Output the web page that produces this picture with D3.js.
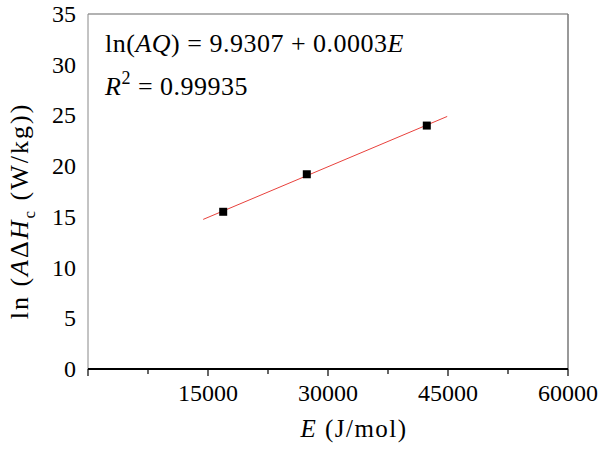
<!DOCTYPE html>
<html>
<head>
<meta charset="utf-8">
<script src="https://cdn.jsdelivr.net/npm/d3@7"></script>
<style>
  body { margin: 0; background: #fff; }
</style>
</head>
<body>
<svg id="svg"></svg>
<script>
// data
const energy = [16900, 27350, 42350];      // E (J/mol)
const lnValue = [15.5, 19.2, 24.0];        // ln(A dHc)
const trendE = [14400, 44900];             // trendline ends
const trendLn = [14.75, 24.9];
const xTicks = [0, 15000, 30000, 45000, 60000];
const xMinor = [7500, 22500, 37500, 52500];
const yTicks = [0, 5, 10, 15, 20, 25, 30, 35];

const w = 600, h = 449;
const m = {left: 88, right: 32, top: 14, bottom: 80};
const fs = 24;

const svg = d3.select("#svg").attr("width", w).attr("height", h)
  .style("font-family", "'Liberation Serif', 'Times New Roman', serif");

const x = d3.scaleLinear().domain([0, 60000]).range([m.left, w - m.right]);
const y = d3.scaleLinear().domain([0, 35]).range([h - m.bottom, m.top]);

// frame
svg.append("line").attr("x1", x(0)).attr("x2", x(60000)).attr("y1", y(35)).attr("y2", y(35))
  .attr("stroke", "#999").attr("stroke-width", 1.5);
svg.append("line").attr("x1", x(0)).attr("x2", x(0)).attr("y1", y(35)).attr("y2", y(0))
  .attr("stroke", "#888").attr("stroke-width", 1);
svg.append("line").attr("x1", x(60000)).attr("x2", x(60000)).attr("y1", y(35)).attr("y2", y(0))
  .attr("stroke", "#777").attr("stroke-width", 1.5);

// x axis
const xAxis = svg.append("g").attr("transform", "translate(0," + y(0) + ")");
xAxis.append("line").attr("x1", x(0)).attr("x2", x(60000))
  .attr("stroke", "#000").attr("stroke-width", 2);
xAxis.selectAll(".major").data(xTicks).enter().append("line")
  .attr("x1", d => x(d)).attr("x2", d => x(d)).attr("y1", 0).attr("y2", 7)
  .attr("stroke", "#000").attr("stroke-width", 1.2);
xAxis.selectAll(".minor").data(xMinor).enter().append("line")
  .attr("x1", d => x(d)).attr("x2", d => x(d)).attr("y1", 0).attr("y2", 5)
  .attr("stroke", "#000").attr("stroke-width", 1.2);
xAxis.selectAll("text").data(xTicks.filter(d => d > 0)).enter().append("text")
  .attr("x", d => x(d)).attr("y", 32)
  .attr("text-anchor", "middle").attr("font-size", fs)
  .text(d => d);

// y tick labels
svg.selectAll(".ylab").data(yTicks).enter().append("text")
  .attr("x", 76).attr("y", d => y(d) + 8)
  .attr("text-anchor", "end").attr("font-size", fs)
  .text(d => d);

// axis titles
const xt = svg.append("text").attr("x", 354).attr("y", 437)
  .attr("text-anchor", "middle").attr("font-size", 25)
  .attr("letter-spacing", 1.5);
xt.append("tspan").attr("font-style", "italic").text("E");
xt.append("tspan").text(" (J/mol)");

const yt = svg.append("text").attr("transform", "translate(28,211) rotate(-90)")
  .attr("text-anchor", "middle").attr("font-size", 26)
  .attr("letter-spacing", 2);
yt.append("tspan").text("ln (");
yt.append("tspan").attr("font-style", "italic").text("A");
yt.append("tspan").text("Δ");
yt.append("tspan").attr("font-style", "italic").text("H");
yt.append("tspan").attr("font-size", 17).attr("dy", 7).text("c");
yt.append("tspan").attr("dy", -7).text(" (W/kg))");

// trendline
svg.append("path")
  .datum(d3.zip(trendE, trendLn))
  .attr("d", d3.line().x(d => x(d[0])).y(d => y(d[1])))
  .attr("stroke", "#e8413c").attr("stroke-width", 1).attr("fill", "none");

// points
svg.selectAll(".pt").data(d3.zip(energy, lnValue)).enter().append("rect")
  .attr("x", d => x(d[0]) - 4).attr("y", d => y(d[1]) - 4)
  .attr("width", 8).attr("height", 8).attr("fill", "#000");

// equation
const eq = svg.append("text").attr("x", 105).attr("y", 52).attr("font-size", 26)
  .attr("letter-spacing", 0.5);
eq.append("tspan").text("ln(");
eq.append("tspan").attr("font-style", "italic").text("AQ");
eq.append("tspan").text(") = 9.9307 + 0.0003");
eq.append("tspan").attr("font-style", "italic").text("E");

const r2 = svg.append("text").attr("x", 105).attr("y", 95).attr("font-size", 26)
  .attr("letter-spacing", 0.5);
r2.append("tspan").attr("font-style", "italic").text("R");
r2.append("tspan").attr("font-size", 18).attr("dy", -11).text("2");
r2.append("tspan").attr("dy", 11).text(" = 0.99935");
</script>
</body>
</html>
